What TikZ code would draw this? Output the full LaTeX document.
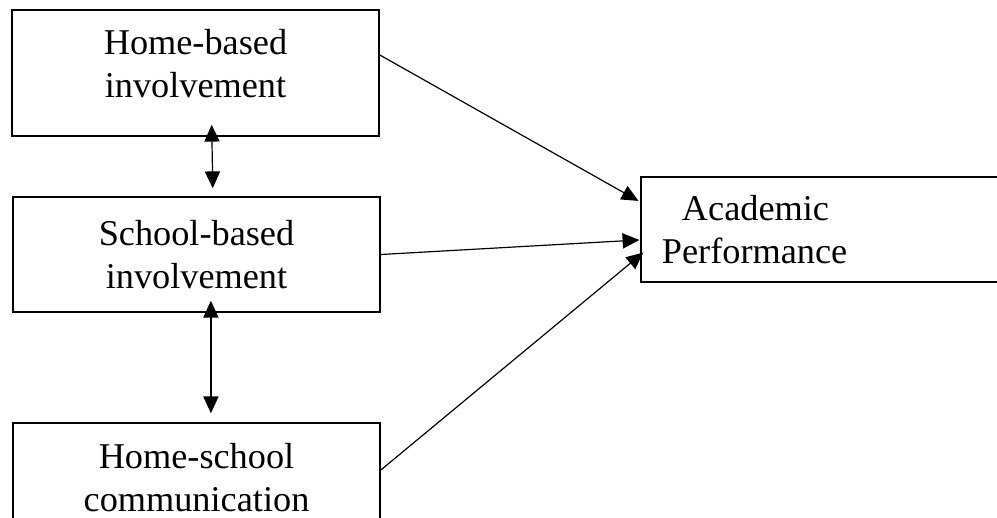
\documentclass[tikz,border=0pt]{standalone}
\usepackage{fontspec}
\setmainfont{Liberation Serif}
\usetikzlibrary{
  arrows.meta
}
\tikzset{
  % Factor box (left column)
  factor/.style={
    draw,
    line width=1.1pt,
    minimum width=9.175cm,
    inner sep=0pt,
    align=center,
    font=\fontsize{25.8}{30.6}\selectfont
  },
  % Outcome box (right)
  outcome/.style={
    draw,
    line width=1.1pt,
    minimum width=9.225cm,
    minimum height=2.625cm,
    text width=8.175cm,
    inner xsep=0.525cm,
    inner ysep=0pt,
    align=left,
    font=\fontsize{25.8}{30.6}\selectfont
  },
  % Directed link
  link/.style={
    draw,
    line width=0.85pt,
    -{Triangle[length=0.42cm, width=0.38cm]}
  },
  % Two-way link
  mutual/.style={
    draw,
    line width=0.85pt,
    {Triangle[length=0.42cm, width=0.38cm]}-{Triangle[length=0.42cm, width=0.38cm]}
  }
}

\begin{document}
\begin{tikzpicture}[x=0.025cm, y=-0.025cm]
  \useasboundingbox (0,0) rectangle (997,518);
  \clip (0,0) rectangle (997,518);
  % Involvement boxes
  \node[factor, minimum height=3.15cm, text depth=0.5cm] (home) at (195.5,73) {Home-based\\involvement};
  \node[factor, minimum height=2.875cm] (school) at (196.5,254.5) {School-based\\involvement};
  \node[factor, minimum height=2.75cm] (comm) at (196.5,478) {Home-school\\communication};
  % Outcome
  \node[outcome] (perf) at (825.5,229.5) {\hspace*{0.5cm}Academic\\Performance};
  % Links between involvement types
  \draw[mutual, shorten <=-0.3cm, shorten >=0.2cm]
    ([xshift=0.41cm]home.south) -- ([xshift=0.41cm]school.north);
  \draw[mutual, shorten <=-0.3cm, shorten >=0.225cm]
    ([xshift=0.36cm]school.south) -- ([xshift=0.36cm]comm.north);
  % Links to the outcome
  \draw[link, shorten >=0.05cm] ([yshift=0.45cm]home.east) -- ([yshift=0.69cm]perf.west);
  \draw[link, shorten >=0.02cm] (school.east) -- ([yshift=-0.26cm]perf.west);
  \draw[link, shorten >=-0.1cm] ([yshift=0.2cm]comm.east) -- ([yshift=-0.64cm]perf.west);
\end{tikzpicture}
\end{document}
